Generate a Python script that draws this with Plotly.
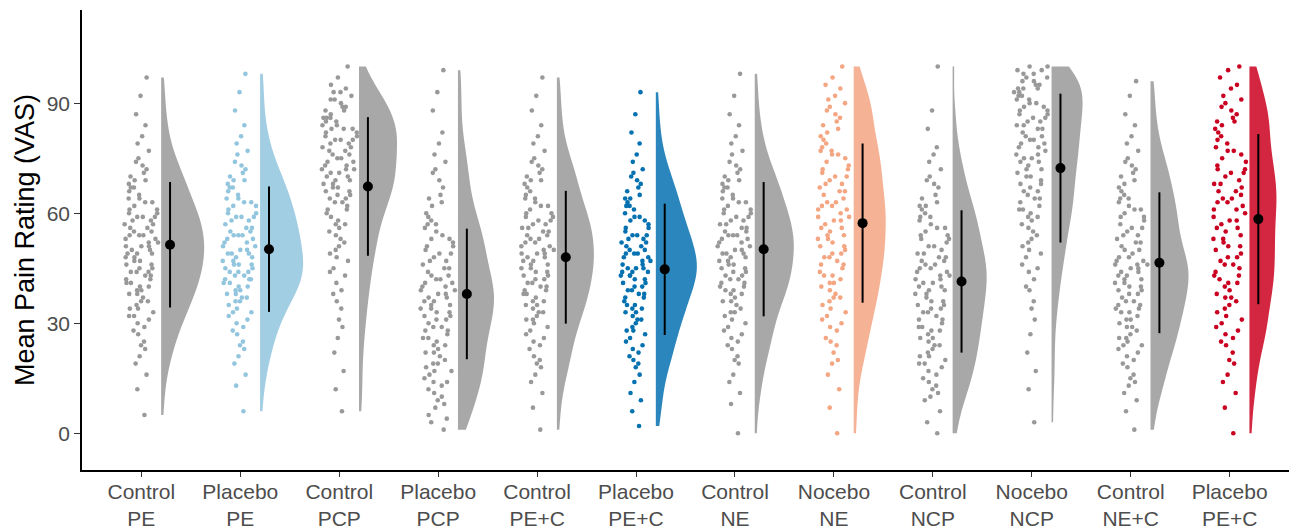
import plotly.graph_objects as go

LABELS = ["Control<br>PE", "Placebo<br>PE", "Control<br>PCP", "Placebo<br>PCP",
          "Control<br>PE+C", "Placebo<br>PE+C", "Control<br>NE", "Nocebo<br>NE",
          "Control<br>NCP", "Nocebo<br>NCP", "Control<br>NE+C", "Placebo<br>PE+C"]

MEANS = [51.4, 50.2, 67.3, 38.0, 48.0, 44.7, 50.2, 57.3, 41.4, 72.3, 46.5, 58.4]
SDS = [17.1, 17.1, 18.9, 17.8, 18.1, 17.9, 18.3, 21.7, 19.4, 20.3, 19.2, 23.2]

# Estimated individual ratings per group (shape read from clouds/violins)
control_pe = [5, 12, 16, 19, 21, 23, 24, 25, 27, 28, 29, 30, 31, 32, 32, 33, 34, 34,
              35, 36, 36, 37, 38, 38, 39, 39, 40, 40, 41, 41, 42, 42, 43, 43, 44, 44, 44,
              45, 45, 46, 46, 47, 47, 48, 48, 49, 49, 49, 50, 50, 51, 51, 51, 52, 52, 53,
              53, 54, 54, 54, 55, 55, 56, 56, 57, 57, 58, 58, 59, 59, 59, 60, 60, 61, 61,
              62, 63, 63, 64, 64, 65, 66, 67, 67, 68, 69, 69, 70, 71, 72, 73, 74, 75, 77,
              79, 81, 84, 87, 92, 97]
placebo_pe = [6, 13, 16, 19, 21, 23, 24, 25, 27, 28, 29, 30, 31, 32, 33, 33, 34, 35, 36,
              36, 37, 37, 38, 38, 39, 39, 40, 40, 41, 41, 42, 42, 42, 43, 43, 44, 44, 44,
              45, 45, 46, 46, 46, 47, 47, 48, 48, 49, 49, 49, 50, 50, 51, 51, 52, 52, 53,
              53, 54, 54, 54, 55, 55, 56, 56, 57, 58, 58, 59, 59, 59, 60, 60, 61, 62, 62,
              63, 63, 64, 64, 65, 66, 67, 67, 68, 69, 69, 70, 71, 72, 73, 74, 76, 77, 79,
              81, 84, 88, 93, 98]
control_pcp = [6, 12, 17, 22, 26, 29, 31, 34, 36, 38, 39, 41, 43, 44, 45, 47, 48, 49, 50,
               51, 52, 53, 54, 55, 56, 57, 57, 58, 59, 60, 61, 61, 62, 63, 63, 64, 64, 65,
               65, 66, 66, 67, 67, 68, 68, 69, 69, 70, 70, 71, 71, 72, 72, 72, 73, 73, 74,
               74, 75, 75, 76, 76, 77, 77, 78, 78, 79, 79, 80, 80, 80, 81, 81, 82, 82, 83,
               83, 83, 84, 84, 85, 85, 86, 86, 86, 87, 88, 88, 89, 89, 90, 91, 91, 92, 93,
               93, 94, 95, 97, 100]
placebo_pcp = [1, 3, 4, 5, 7, 8, 9, 10, 11, 12, 13, 14, 14, 15, 16, 17, 17, 18, 19, 19, 20,
               21, 22, 22, 23, 24, 24, 25, 26, 26, 27, 28, 28, 29, 29, 30, 31, 31, 32, 32,
               33, 33, 34, 34, 35, 35, 36, 36, 37, 37, 38, 38, 39, 39, 40, 40, 41, 41, 42,
               42, 43, 43, 44, 45, 45, 46, 47, 47, 48, 49, 49, 50, 51, 51, 52, 53, 53, 54,
               55, 56, 57, 57, 58, 59, 60, 62, 63, 64, 65, 67, 69, 71, 72, 74, 76, 79, 82,
               88, 93, 99]
control_pec = [1, 7, 11, 14, 16, 18, 19, 20, 21, 23, 24, 25, 26, 27, 28, 29, 30, 31, 31,
               32, 33, 33, 34, 35, 35, 36, 36, 37, 38, 38, 39, 39, 40, 40, 41, 41, 42, 42,
               43, 43, 44, 44, 45, 45, 46, 46, 47, 47, 48, 48, 49, 49, 49, 50, 50, 51, 51,
               52, 52, 53, 53, 54, 54, 55, 55, 56, 56, 57, 57, 58, 58, 59, 59, 60, 60, 61,
               62, 62, 63, 64, 64, 65, 66, 67, 68, 69, 69, 70, 71, 72, 73, 74, 75, 77, 79,
               81, 84, 88, 92, 97]
placebo_pec = [2, 6, 9, 11, 14, 16, 18, 19, 20, 21, 22, 23, 24, 25, 26, 27, 28, 28, 29, 30,
               31, 31, 32, 33, 33, 34, 34, 35, 35, 36, 37, 37, 38, 38, 39, 39, 40, 40, 41,
               41, 42, 42, 43, 43, 43, 44, 44, 44, 45, 45, 45, 46, 46, 47, 47, 48, 48, 49,
               49, 49, 50, 50, 51, 51, 52, 52, 53, 53, 54, 54, 54, 55, 56, 56, 57, 58, 58,
               59, 59, 60, 61, 62, 62, 63, 64, 64, 65, 66, 67, 68, 69, 70, 71, 72, 74, 76,
               79, 82, 87, 93]
control_ne = [0, 8, 11, 14, 16, 19, 20, 21, 23, 24, 25, 26, 27, 28, 29, 30, 31, 32, 33, 33,
              34, 35, 36, 36, 37, 38, 38, 39, 39, 40, 40, 41, 41, 42, 42, 43, 43, 44, 44,
              45, 45, 46, 46, 47, 47, 48, 48, 49, 49, 49, 50, 50, 51, 51, 52, 52, 53, 53,
              54, 54, 54, 55, 55, 56, 56, 57, 57, 58, 58, 59, 59, 60, 60, 61, 61, 62, 63,
              63, 64, 64, 65, 66, 67, 67, 68, 69, 69, 70, 71, 72, 73, 74, 76, 77, 79, 81,
              84, 87, 92, 98]
nocebo_ne = [0, 7, 12, 16, 19, 20, 22, 24, 25, 26, 28, 29, 30, 31, 32, 33, 34, 35, 36, 37,
             37, 38, 39, 40, 41, 41, 42, 43, 43, 44, 45, 46, 46, 47, 48, 48, 49, 49, 50,
             51, 51, 52, 53, 53, 54, 54, 55, 56, 56, 57, 58, 58, 59, 59, 60, 61, 61, 62,
             62, 63, 63, 64, 65, 66, 66, 67, 68, 68, 69, 70, 70, 71, 72, 72, 73, 74, 75,
             76, 76, 77, 77, 78, 79, 80, 81, 82, 83, 84, 85, 86, 87, 88, 89, 90, 91, 92,
             94, 95, 97, 100]
control_ncp = [0, 3, 6, 9, 10, 11, 12, 13, 14, 15, 16, 17, 18, 19, 19, 20, 21, 21,
               22, 23, 24, 24, 25, 26, 26, 27, 28, 28, 29, 29, 30, 31, 31, 32, 33, 33, 34,
               34, 35, 35, 36, 36, 37, 38, 38, 39, 39, 40, 40, 41, 41, 42, 42, 43, 43, 44,
               44, 45, 45, 46, 46, 47, 47, 48, 48, 49, 49, 50, 51, 51, 52, 53, 53, 54, 54,
               55, 56, 56, 57, 58, 59, 59, 60, 61, 62, 62, 63, 64, 65, 67, 68, 69, 70, 72,
               74, 76, 78, 83, 88, 100]
nocebo_ncp = [3, 12, 17, 22, 27, 31, 34, 36, 39, 40, 42, 44, 45, 46, 48, 49, 50, 51, 52, 53,
              54, 55, 56, 57, 58, 59, 59, 60, 61, 61, 62, 63, 64, 64, 65, 66, 66, 67, 68,
              68, 69, 70, 70, 71, 72, 72, 73, 74, 74, 75, 75, 76, 76, 77, 78, 78, 79, 79,
              80, 80, 81, 81, 82, 83, 83, 84, 84, 85, 85, 86, 86, 87, 87, 88, 88, 89, 89,
              90, 90, 91, 91, 92, 92, 93, 93, 94, 94, 94, 95, 95, 96, 96, 97, 97, 98, 98,
              99, 99, 100, 100]
control_nec = [1, 6, 9, 11, 13, 14, 15, 16, 18, 19, 20, 21, 22, 23, 24, 24, 25, 26, 26, 27,
               28, 29, 29, 30, 31, 31, 32, 33, 33, 34, 34, 35, 35, 36, 36, 37, 38, 38, 39,
               39, 40, 40, 41, 41, 42, 42, 43, 43, 44, 44, 45, 45, 46, 46, 46, 47, 47, 48,
               48, 49, 50, 50, 51, 52, 52, 53, 54, 54, 55, 56, 56, 57, 58, 59, 59, 60, 61,
               61, 62, 63, 64, 64, 65, 66, 67, 68, 69, 70, 71, 72, 73, 74, 75, 77, 79, 81,
               84, 87, 92, 96]
placebo_pec2 = [0, 7, 11, 14, 16, 19, 20, 22, 24, 25, 26, 27, 28, 29, 30, 31, 32, 33, 34,
                35, 36, 37, 37, 38, 39, 40, 41, 41, 42, 43, 43, 44, 45, 46, 46, 47, 48, 48,
                49, 50, 51, 51, 52, 53, 53, 54, 55, 56, 56, 57, 58, 58, 59, 60, 61, 61, 62,
                63, 63, 64, 64, 65, 66, 66, 67, 68, 68, 69, 70, 71, 71, 72, 72, 73, 74, 75,
                76, 77, 77, 78, 79, 80, 81, 82, 83, 84, 85, 85, 86, 87, 88, 89, 90, 91, 92,
                94, 95, 97, 99, 100]

GROUP_DATA = [control_pe, placebo_pe, control_pcp, placebo_pcp, control_pec, placebo_pec,
              control_ne, nocebo_ne, control_ncp, nocebo_ncp, control_nec, placebo_pec2]

Y_TICKS = [0, 30, 60, 90]

# ---- styles ----
GRAY = "#999999"
POINT_COLORS = [GRAY, "#92C5DE", GRAY, GRAY, GRAY, "#0571B0", GRAY, "#F4A582", GRAY, GRAY,
                GRAY, "#CA0020"]
VIOLIN_HALF_PX = [43, 43, 38, 36, 37, 41, 39, 32, 34, 31, 38, 27]
PX_PER_CAT = 98.9


def rgba(hex_color, a):
    h = hex_color.lstrip("#")
    r, g, b = int(h[0:2], 16), int(h[2:4], 16), int(h[4:6], 16)
    return f"rgba({r},{g},{b},{a})"


fig = go.Figure()
FONT = "Liberation Sans, Arial, sans-serif"

for i, vals in enumerate(GROUP_DATA):
    n = len(vals)
    # jittered raw points (library jitter)
    fig.add_trace(go.Box(
        x=[i] * n, y=vals, boxpoints="all", jitter=1, pointpos=0, width=0.36,
        fillcolor="rgba(0,0,0,0)", line=dict(color="rgba(0,0,0,0)", width=0),
        marker=dict(color=POINT_COLORS[i], size=4.6, opacity=1),
        whiskerwidth=0, showlegend=False, hoverinfo="y",
    ))
    # half violin
    fig.add_trace(go.Violin(
        x=[i + 0.2] * n, y=vals, side="positive", points=False, spanmode="hard",
        width=2 * VIOLIN_HALF_PX[i] / PX_PER_CAT, scalemode="width", bandwidth=5,
        fillcolor=rgba(POINT_COLORS[i], 0.85), line=dict(width=0, color=rgba(POINT_COLORS[i], 0.85)),
        box=dict(visible=False), meanline=dict(visible=False), showlegend=False,
        hoverinfo="skip",
    ))

fig.add_trace(go.Scatter(
    x=[i + 0.29 for i in range(len(MEANS))], y=MEANS, mode="markers",
    marker=dict(color="black", size=10),
    error_y=dict(type="data", array=SDS, color="black", thickness=2, width=0),
    showlegend=False,
))

fig.update_layout(
    width=1301, height=530,
    margin=dict(l=82, r=12, t=10, b=60),
    plot_bgcolor="white", paper_bgcolor="white",
    violinmode="overlay", boxmode="overlay",
    font=dict(family=FONT, color="#4D4D4D"),
    xaxis=dict(range=[-0.6, 11.6], tickmode="array", tickvals=list(range(len(LABELS))),
               ticktext=LABELS, showline=True, linecolor="black", linewidth=1.5,
               ticks="outside", ticklen=5, tickcolor="#333333", tickwidth=1.2,
               showgrid=False, zeroline=False, automargin=False,
               tickfont=dict(size=21, color="#4D4D4D"), ticklabelstandoff=-3),
    yaxis=dict(range=[-10, 115.4], tickmode="array", tickvals=Y_TICKS,
               showline=True, linecolor="black", linewidth=1.5,
               ticks="outside", ticklen=6, tickcolor="#333333", tickwidth=1.2,
               showgrid=False, zeroline=False, automargin=False,
               tickfont=dict(size=21, color="#4D4D4D"), ticklabelstandoff=0,
               title=dict(text="Mean Pain Rating (VAS)", font=dict(size=27, color="black"),
                          standoff=4)),
)

fig.write_html("out.html", post_script="document.body.style.margin='0';",
               config={"displayModeBar": False})
